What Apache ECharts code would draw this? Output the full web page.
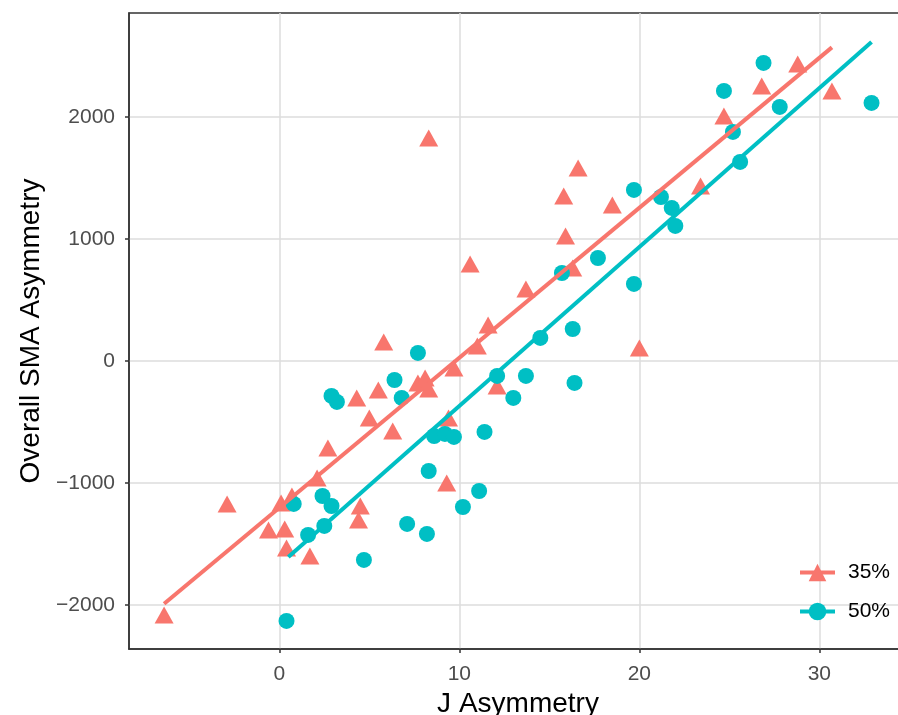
<!DOCTYPE html>
<html>
<head>
<meta charset="utf-8">
<script src="https://cdn.jsdelivr.net/npm/echarts@6/dist/echarts.min.js"></script>
<style>
  html, body { margin: 0; padding: 0; background: #ffffff; }
  #chart { width: 898px; height: 715px; }
</style>
</head>
<body>
<div id="chart"></div>
<script>
// ---- data ----
const seriesNames = ['35%', '50%'];

const tri35X = [-6.4, -2.9, -0.6, 0.1, 0.3, 0.4, 0.7, 1.7, 2.1, 2.7, 4.3, 4.5, 4.4, 5.0, 5.5, 5.8, 6.3, 7.7, 8.1, 8.3,
                8.3, 9.3, 9.4, 9.7, 10.6, 11.0, 11.6, 12.1, 13.7, 15.8, 15.9, 16.3, 16.6, 18.5, 20.0, 23.4, 24.7, 26.8, 28.8, 30.7];
const tri35Y = [-2082, -1172, -1385, -1164, -1377, -1533, -1107, -1598, -959, -713, -303, -1189, -1303, -467, -238, 156, -574, -180, -139, -230,
                1828, -1000, -467, -57, 795, 123, 295, -205, 590, 1352, 1025, 762, 1582, 1279, 107, 1434, 2008, 2254, 2434, 2213];

const circ50X = [0.4, 0.8, 1.6, 2.4, 2.5, 2.9, 2.9, 3.2, 4.7, 6.4, 6.8, 7.1, 7.7, 8.2, 8.3, 8.6, 9.2, 9.7, 10.2, 11.1,
                 11.4, 12.1, 13.0, 13.7, 14.5, 15.7, 16.3, 16.4, 17.7, 19.7, 19.7, 21.2, 21.8, 22.0, 24.7, 25.2, 25.6, 26.9, 27.8, 32.9];
const circ50Y = [-2131, -1172, -1426, -1107, -1352, -1189, -287, -336, -1631, -156, -303, -1336, 66, -1418, -902, -615, -598, -623, -1197, -1066,
                 -582, -123, -303, -123, 189, 721, 262, -180, 844, 1402, 631, 1344, 1254, 1107, 2213, 1877, 1631, 2443, 2082, 2115];

// fitted lines (endpoints)
const fit35X = [-6.4, 30.7];
const fit35Y = [-1990, 2570];
const fit50X = [0.5, 32.9];
const fit50Y = [-1607, 2615];

const xTicks = [0, 10, 20, 30];
const yTicks = [-2000, -1000, 0, 1000, 2000];

const xTitle = 'J Asymmetry';
const yTitle = 'Overall SMA Asymmetry';

// ---- build ----
const zip = (xs, ys) => xs.map((x, i) => [x, ys[i]]);
const RED = '#F8766D', CYAN = '#00BFC4';
const FONT = 'Liberation Sans';
const fmt = v => (v < 0 ? '\u2212' + Math.abs(v) : String(v));

const chart = echarts.init(document.getElementById('chart'), null, { renderer: 'canvas' });

const axisCommon = {
  type: 'value',
  axisLine: { show: true, onZero: false, lineStyle: { color: '#333333', width: 1.5 } },
  axisTick: { show: true, inside: false, length: 4, lineStyle: { color: '#333333', width: 1.5 } },
  splitLine: { show: true, lineStyle: { color: '#DCDCDC', width: 1.5 } },
  axisLabel: { color: '#4D4D4D', fontSize: 21, fontFamily: FONT, formatter: fmt },
  nameLocation: 'middle',
  nameTextStyle: { color: '#000000', fontSize: 28, fontFamily: FONT }
};

chart.setOption({
  animation: false,
  backgroundColor: '#ffffff',
  grid: {
    left: 129, top: 13, width: 778, height: 636,
    outerBoundsMode: 'none', containLabel: false,
    show: true, borderColor: '#333333', borderWidth: 1.5, backgroundColor: 'transparent'
  },
  xAxis: Object.assign({}, axisCommon, {
    min: -8.35, max: 34.87,
    name: xTitle, nameGap: 39,
    axisTick: Object.assign({}, axisCommon.axisTick, { customValues: xTicks }),
    axisLabel: Object.assign({}, axisCommon.axisLabel, { customValues: xTicks, margin: 15 })
  }),
  yAxis: Object.assign({}, axisCommon, {
    min: -2361, max: 2852,
    name: yTitle, nameGap: 81,
    axisTick: Object.assign({}, axisCommon.axisTick, { customValues: yTicks }),
    axisLabel: Object.assign({}, axisCommon.axisLabel, { customValues: yTicks, margin: 14 })
  }),
  legend: {
    orient: 'vertical',
    left: 793, top: 557,
    itemWidth: 35, itemHeight: 22, itemGap: 18,
    data: seriesNames,
    lineStyle: { width: 4 },
    textStyle: { color: '#000000', fontSize: 21, fontFamily: FONT, padding: [0, 0, 0, 8] }
  },
  series: [
    {
      name: seriesNames[0], type: 'line', data: zip(fit35X, fit35Y),
      symbol: 'triangle', symbolSize: [19, 17], showSymbol: false,
      lineStyle: { color: RED, width: 4 }, itemStyle: { color: RED }, z: 4, silent: true
    },
    {
      name: seriesNames[1], type: 'line', data: zip(fit50X, fit50Y),
      symbol: 'circle', symbolSize: 16, showSymbol: false,
      lineStyle: { color: CYAN, width: 4 }, itemStyle: { color: CYAN }, z: 4, silent: true
    },
    {
      name: seriesNames[0], type: 'scatter', data: zip(tri35X, tri35Y),
      symbol: 'triangle', symbolSize: [19, 17], itemStyle: { color: RED, opacity: 1 }, z: 2
    },
    {
      name: seriesNames[1], type: 'scatter', data: zip(circ50X, circ50Y),
      symbol: 'circle', symbolSize: 16, itemStyle: { color: CYAN, opacity: 1 }, z: 2
    }
  ]
});
</script>
</body>
</html>
